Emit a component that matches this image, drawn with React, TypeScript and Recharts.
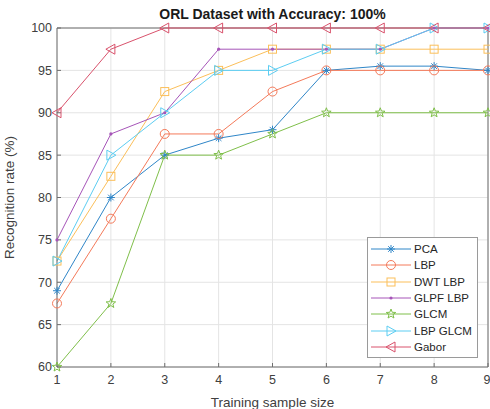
import React from 'react';
import {
  LineChart,
  Line,
  XAxis,
  YAxis,
  CartesianGrid,
  ReferenceLine,
} from 'recharts';

const sampleSizes = [1, 2, 3, 4, 5, 6, 7, 8, 9];
const pca = [69, 80, 85, 87, 88, 95, 95.5, 95.5, 95];
const lbp = [67.5, 77.5, 87.5, 87.5, 92.5, 95, 95, 95, 95];
const dwtLbp = [72.5, 82.5, 92.5, 95, 97.5, 97.5, 97.5, 97.5, 97.5];
const glpfLbp = [75, 87.5, 90, 97.5, 97.5, 97.5, 97.5, 100, 100];
const glcm = [60, 67.5, 85, 85, 87.5, 90, 90, 90, 90];
const lbpGlcm = [72.5, 85, 90, 95, 95, 97.5, 97.5, 100, 100];
const gabor = [90, 97.5, 100, 100, 100, 100, 100, 100, 100];
const yTicks = [60, 65, 70, 75, 80, 85, 90, 95, 100];

const series = [
  { name: 'PCA', values: pca, color: '#2f86c8', marker: 'asterisk' },
  { name: 'LBP', values: lbp, color: '#f47a5a', marker: 'circle' },
  { name: 'DWT LBP', values: dwtLbp, color: '#fbbf5a', marker: 'square' },
  { name: 'GLPF LBP', values: glpfLbp, color: '#a654b8', marker: 'point' },
  { name: 'GLCM', values: glcm, color: '#7fbf4a', marker: 'star' },
  { name: 'LBP GLCM', values: lbpGlcm, color: '#5ccdf2', marker: 'right' },
  { name: 'Gabor', values: gabor, color: '#d9526c', marker: 'left' },
];

const data = sampleSizes.map((x, i) => {
  const row: Record<string, number> = { x };
  series.forEach((s) => (row[s.name] = s.values[i]));
  return row;
});

const FONT = '"Liberation Sans", Arial, sans-serif';
const AXIS = '#6e6e6e';
const TEXT = '#404040';

function Marker({ type, cx, cy, color }: { type: string; cx: number; cy: number; color: string }) {
  const sw = 1;
  if (type === 'asterisk') {
    const r = 4;
    const d = r * 0.7;
    return (
      <g stroke={color} strokeWidth={sw}>
        <line x1={cx - r} y1={cy} x2={cx + r} y2={cy} />
        <line x1={cx} y1={cy - r} x2={cx} y2={cy + r} />
        <line x1={cx - d} y1={cy - d} x2={cx + d} y2={cy + d} />
        <line x1={cx - d} y1={cy + d} x2={cx + d} y2={cy - d} />
      </g>
    );
  }
  if (type === 'circle') return <circle cx={cx} cy={cy} r={4.5} fill="none" stroke={color} strokeWidth={sw} />;
  if (type === 'square')
    return <rect x={cx - 4} y={cy - 4} width={8} height={8} fill="none" stroke={color} strokeWidth={sw} />;
  if (type === 'point') return <circle cx={cx} cy={cy} r={1.6} fill={color} stroke="none" />;
  if (type === 'star') {
    const pts: string[] = [];
    for (let k = 0; k < 10; k++) {
      const r = k % 2 === 0 ? 5 : 2.1;
      const a = -Math.PI / 2 + (k * Math.PI) / 5;
      pts.push(`${cx + r * Math.cos(a)},${cy + r * Math.sin(a)}`);
    }
    return <polygon points={pts.join(' ')} fill="none" stroke={color} strokeWidth={sw} />;
  }
  if (type === 'right')
    return (
      <polygon
        points={`${cx - 4},${cy - 5} ${cx + 5},${cy} ${cx - 4},${cy + 5}`}
        fill="none"
        stroke={color}
        strokeWidth={sw}
      />
    );
  return (
    <polygon
      points={`${cx + 4},${cy - 5} ${cx - 5},${cy} ${cx + 4},${cy + 5}`}
      fill="none"
      stroke={color}
      strokeWidth={sw}
    />
  );
}

const makeDot = (type: string, color: string) => (props: any) => {
  const { cx, cy, index } = props;
  if (cx == null || cy == null) return <g key={index} />;
  return (
    <g key={`${type}-${index}`}>
      <Marker type={type} cx={cx} cy={cy} color={color} />
    </g>
  );
};

const ChartLegend = () => (
  <div
    style={{
      position: 'absolute',
      left: 367,
      top: 237,
      width: 109,
      background: '#fff',
      border: '1px solid #9a9a9a',
      padding: '3px 0 2px 0',
      fontFamily: FONT,
      fontSize: 11.5,
      color: '#262626',
    }}
  >
    {series.map((s) => (
      <div key={s.name} style={{ display: 'flex', alignItems: 'center', height: 16.3 }}>
        <svg width={44} height={14} style={{ display: 'block' }}>
          <line x1={3} y1={7} x2={43} y2={7} stroke={s.color} strokeWidth={1} />
          <Marker type={s.marker} cx={23} cy={7} color={s.color} />
        </svg>
        <span style={{ marginLeft: 2 }}>{s.name}</span>
      </div>
    ))}
  </div>
);

export default function App() {
  return (
    <div style={{ position: 'absolute', left: 0, top: 0, width: 490, height: 409, background: '#fff' }}>
      <div
        style={{
          position: 'absolute',
          top: 6,
          left: 57,
          width: 431,
          textAlign: 'center',
          fontFamily: FONT,
          fontSize: 14,
          fontWeight: 'bold',
          color: '#1a1a1a',
        }}
      >
        ORL Dataset with Accuracy: 100%
      </div>
      <LineChart width={490} height={409} data={data} margin={{ top: 28, right: 2, bottom: 0, left: 0 }}>
        <CartesianGrid stroke="#e4e4e4" />
        <XAxis
          dataKey="x"
          type="number"
          domain={[1, 9]}
          ticks={sampleSizes}
          height={42}
          stroke={AXIS}
          tickSize={-4}
          tickMargin={12}
          tick={{ fill: TEXT, fontSize: 12.5, fontFamily: FONT }}
          label={{
            value: 'Training sample size',
            position: 'insideBottom',
            offset: 2,
            fill: TEXT,
            fontSize: 13.5,
            fontFamily: FONT,
          }}
        />
        <YAxis
          type="number"
          domain={[60, 100]}
          ticks={yTicks}
          width={57}
          stroke={AXIS}
          tickSize={-4}
          tickMargin={9}
          tick={{ fill: TEXT, fontSize: 12.5, fontFamily: FONT }}
          label={{
            value: 'Recognition rate (%)',
            angle: -90,
            position: 'insideLeft',
            offset: 9,
            style: { textAnchor: 'middle' },
            fill: TEXT,
            fontSize: 13.5,
            fontFamily: FONT,
          }}
        />
        <ReferenceLine y={100} stroke={AXIS} />
        <ReferenceLine x={9} stroke={AXIS} />
        {series.map((s) => (
          <Line
            key={s.name}
            dataKey={s.name}
            name={s.name}
            stroke={s.color}
            strokeWidth={1}
            dot={makeDot(s.marker, s.color)}
            activeDot={false}
            isAnimationActive={false}
          />
        ))}
      </LineChart>
      <ChartLegend />
    </div>
  );
}
